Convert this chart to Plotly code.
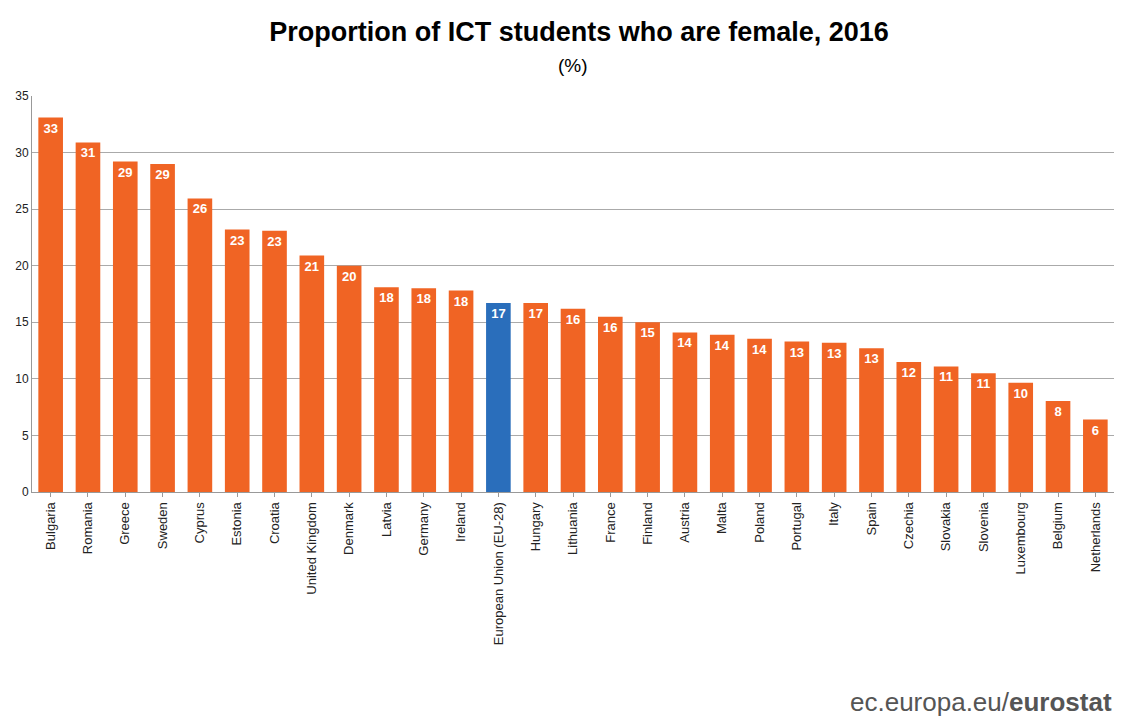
import plotly.graph_objects as go

countries = ["Bulgaria", "Romania", "Greece", "Sweden", "Cyprus", "Estonia", "Croatia",
             "United Kingdom", "Denmark", "Latvia", "Germany", "Ireland",
             "European Union (EU-28)", "Hungary", "Lithuania", "France", "Finland",
             "Austria", "Malta", "Poland", "Portugal", "Italy", "Spain", "Czechia",
             "Slovakia", "Slovenia", "Luxembourg", "Belgium", "Netherlands"]
values = [33.1, 30.9, 29.2, 29.0, 25.95, 23.2, 23.1, 20.9, 20.0, 18.1, 18.0, 17.8,
          16.7, 16.7, 16.2, 15.5, 15.0, 14.1, 13.9, 13.55, 13.3, 13.2, 12.7, 11.5,
          11.1, 10.5, 9.65, 8.05, 6.4]
labels = [33, 31, 29, 29, 26, 23, 23, 21, 20, 18, 18, 18, 17, 17, 16, 16, 15, 14, 14,
          14, 13, 13, 13, 12, 11, 11, 10, 8, 6]

colors = ["#2A6EBB" if c.startswith("European") else "#F06424" for c in countries]

fig = go.Figure(go.Bar(
    x=countries, y=values, marker=dict(color=colors, line=dict(width=0)),
    text=["<b>%d</b>" % v for v in labels], textposition="inside", insidetextanchor="end",
    textangle=0,
    textfont=dict(color="white", size=13, family="Liberation Sans, Arial"),
    width=0.66,
))

fig.update_layout(
    width=1142, height=727,
    paper_bgcolor="white", plot_bgcolor="white",
    margin=dict(l=24, r=36, t=88, b=243),
    font=dict(family="Liberation Sans, Arial", color="#222"),
    title=dict(text="<b>Proportion of ICT students who are female, 2016</b>",
               x=0.5, xanchor="center", y=0.98, yanchor="top",
               font=dict(size=27, color="black")),
    annotations=[
        dict(text="(%)", x=0.5, xref="paper", xanchor="center",
             y=1.076, yref="paper", yanchor="middle", showarrow=False,
             font=dict(size=19, color="black")),
        dict(text="ec.europa.eu/<b>eurostat</b>", x=1.0, xref="paper", xanchor="right",
             y=-0.53, yref="paper", yanchor="middle", showarrow=False,
             font=dict(size=26, color="#555")),
    ],
    xaxis=dict(tickangle=-90, tickfont=dict(size=13), showline=True, automargin=False,
               linecolor="#999", ticks="outside", ticklen=4, tickcolor="#999"),
    yaxis=dict(range=[0, 35], dtick=5, showgrid=True, gridcolor="#aaa", automargin=False,
               tickfont=dict(size=12), showline=True, linecolor="#999",
               zeroline=False),
    showlegend=False,
)

fig.write_html("out.html")
